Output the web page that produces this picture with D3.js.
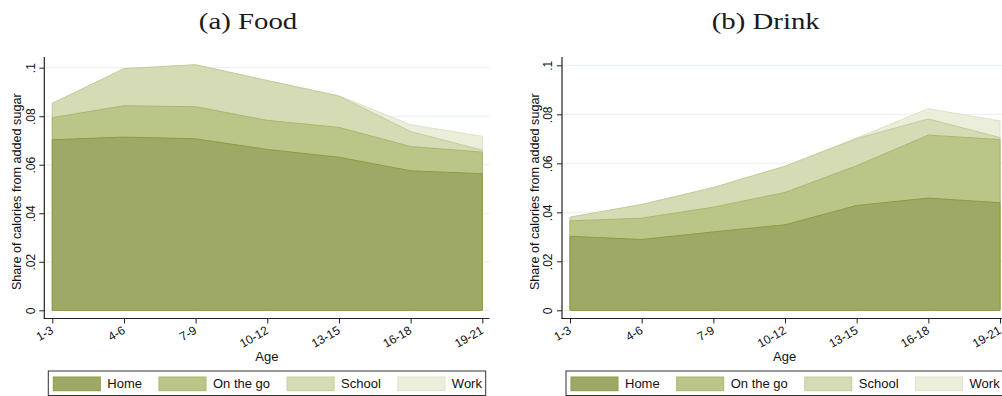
<!DOCTYPE html>
<html>
<head>
<meta charset="utf-8">
<script src="https://cdn.jsdelivr.net/npm/d3@7"></script>
<style>
  html, body { margin: 0; padding: 0; background: #fff; overflow: hidden; }
  svg { display: block; }
</style>
</head>
<body>
<svg id="chart" width="1002" height="396"></svg>
<script>
// Age groups on the x axis
const ageGroups = ["1-3", "4-6", "7-9", "10-12", "13-15", "16-18", "19-21"];
// Where the calories were eaten (stacking order, bottom to top)
const locations = ["Home", "On the go", "School", "Work"];
// y-axis ticks and their labels
const yTicks = [0, 0.02, 0.04, 0.06, 0.08, 0.1];
const yTickLabels = ["0", ".02", ".04", ".06", ".08", ".1"];
const xTitle = "Age";
const yTitle = "Share of calories from added sugar";

// (a) Food: share of calories from added sugar, by location
const foodHome   = [0.0703, 0.0714, 0.0707, 0.0663, 0.0631, 0.0575, 0.0563];
const foodOnTheGo = [0.0091, 0.0129, 0.0132, 0.0120, 0.0123, 0.0100, 0.0089];
const foodSchool = [0.0059, 0.0153, 0.0173, 0.0164, 0.0129, 0.0062, 0.0008];
const foodWork   = [0.0000, 0.0000, 0.0000, 0.0000, 0.0001, 0.0028, 0.0057];

// (b) Drink: share of calories from added sugar, by location
const drinkHome   = [0.0302, 0.0289, 0.0320, 0.0349, 0.0428, 0.0458, 0.0439];
const drinkOnTheGo = [0.0063, 0.0087, 0.0101, 0.0132, 0.0162, 0.0257, 0.0258];
const drinkSchool = [0.0015, 0.0056, 0.0080, 0.0107, 0.0111, 0.0066, 0.0008];
const drinkWork   = [0.0000, 0.0000, 0.0000, 0.0000, 0.0002, 0.0042, 0.0068];

const fills   = ["#9fa966", "#bac688", "#d5dbb5", "#eaeedb"];
const strokes = ["#8c9b47", "#a9b86d", "#c5ce9a", "#dde3c5"];

function rows(series) {
  return ageGroups.map((age, i) => {
    const r = { age };
    locations.forEach((loc, k) => { r[loc] = series[k][i]; });
    return r;
  });
}

const panels = [
  { title: "(a) Food",  series: [foodHome, foodOnTheGo, foodSchool, foodWork],   dx: 0,     yTop: 67.7 },
  { title: "(b) Drink", series: [drinkHome, drinkOnTheGo, drinkSchool, drinkWork], dx: 517.7, yTop: 65.3 }
];

const svg = d3.select("#chart");
const sans = "'Liberation Sans', Arial, sans-serif";

const axisX = 44.3, axisRight = 489.5, axisY = 318.5, axisTop = 57;

panels.forEach(p => {
  const g = svg.append("g").attr("transform", `translate(${p.dx},0)`);

  const x = d3.scalePoint().domain(ageGroups).range([52.3, 482.3]);
  const y = d3.scaleLinear().domain([0, 0.1]).range([310.3, p.yTop]);

  // title
  g.append("text")
    .attr("transform", `translate(248,28.5) scale(1.2,1)`)
    .attr("text-anchor", "middle")
    .attr("font-family", "'Liberation Serif', 'Times New Roman', serif")
    .attr("font-size", 24)
    .attr("fill", "#1a1a1a")
    .text(p.title);

  // horizontal grid
  g.append("g").selectAll("line").data(yTicks).join("line")
    .attr("x1", axisX).attr("x2", axisRight)
    .attr("y1", d => y(d)).attr("y2", d => y(d))
    .attr("stroke", "#e6eff2").attr("stroke-width", 1);

  // stacked areas, drawn from the total downwards so each lower layer sits on top
  const stacked = d3.stack().keys(locations)(rows(p.series));
  const area = d3.area()
    .x(d => x(d.data.age))
    .y0(y(0))
    .y1(d => y(d[1]));

  g.append("g").selectAll("path")
    .data(stacked.slice().reverse())
    .join("path")
    .attr("d", d => area(d) + "Z")
    .attr("fill", d => fills[d.index])
    .attr("stroke", d => strokes[d.index])
    .attr("stroke-width", 1)
    .attr("stroke-linejoin", "round");

  // y axis
  const yAxis = g.append("g")
    .attr("transform", `translate(${axisX},0)`)
    .call(d3.axisLeft(y).tickValues(yTicks).tickSize(5).tickSizeOuter(0)
      .tickFormat((d, i) => yTickLabels[i]));
  yAxis.select(".domain").remove();
  yAxis.selectAll(".tick line").attr("stroke", "#222").attr("stroke-width", 1);
  yAxis.selectAll(".tick text")
    .attr("x", 0).attr("y", -9.8).attr("dy", 0)
    .attr("transform", "rotate(-90)")
    .attr("text-anchor", "middle")
    .attr("font-family", sans).attr("font-size", 12).attr("fill", "#111");

  // x axis
  const xAxis = g.append("g")
    .attr("transform", `translate(0,${axisY})`)
    .call(d3.axisBottom(x).tickSize(5).tickSizeOuter(0));
  xAxis.select(".domain").remove();
  xAxis.selectAll(".tick line").attr("stroke", "#222").attr("stroke-width", 1);
  xAxis.selectAll(".tick text")
    .attr("x", 0).attr("y", 0).attr("dy", 0)
    .attr("transform", "translate(1.5,14.2) rotate(-30)")
    .attr("text-anchor", "end")
    .attr("font-family", sans).attr("font-size", 12).attr("fill", "#111");

  // axis lines
  g.append("line").attr("x1", axisX).attr("x2", axisX).attr("y1", axisTop).attr("y2", axisY + 0.5)
    .attr("stroke", "#222").attr("stroke-width", 1.2);
  g.append("line").attr("x1", axisX - 0.5).attr("x2", axisRight).attr("y1", axisY).attr("y2", axisY)
    .attr("stroke", "#222").attr("stroke-width", 1.2);

  // axis titles
  g.append("text")
    .attr("transform", `translate(21,${(axisTop + axisY) / 2 + 4}) rotate(-90)`)
    .attr("text-anchor", "middle")
    .attr("font-family", sans).attr("font-size", 12.6).attr("fill", "#111")
    .text(yTitle);
  g.append("text")
    .attr("x", (axisX + axisRight) / 2).attr("y", 361)
    .attr("text-anchor", "middle")
    .attr("font-family", sans).attr("font-size", 13).attr("fill", "#111")
    .text(xTitle);

  // legend
  const lg = g.append("g");
  lg.append("rect")
    .attr("x", 48.3).attr("y", 371).attr("width", 437.4).attr("height", 24.5)
    .attr("fill", "#fff").attr("stroke", "#333").attr("stroke-width", 1);
  let cx = 53.3;
  locations.forEach((loc, k) => {
    lg.append("rect")
      .attr("x", cx).attr("y", 377).attr("width", 47).attr("height", 13.7)
      .attr("fill", fills[k]).attr("stroke", strokes[k]).attr("stroke-width", 1);
    const t = lg.append("text")
      .attr("x", cx + 54).attr("y", 388)
      .attr("font-family", sans).attr("font-size", 13).attr("fill", "#111")
      .text(loc);
    cx = cx + 54 + t.node().getComputedTextLength() + 17;
  });
});
</script>
</body>
</html>
